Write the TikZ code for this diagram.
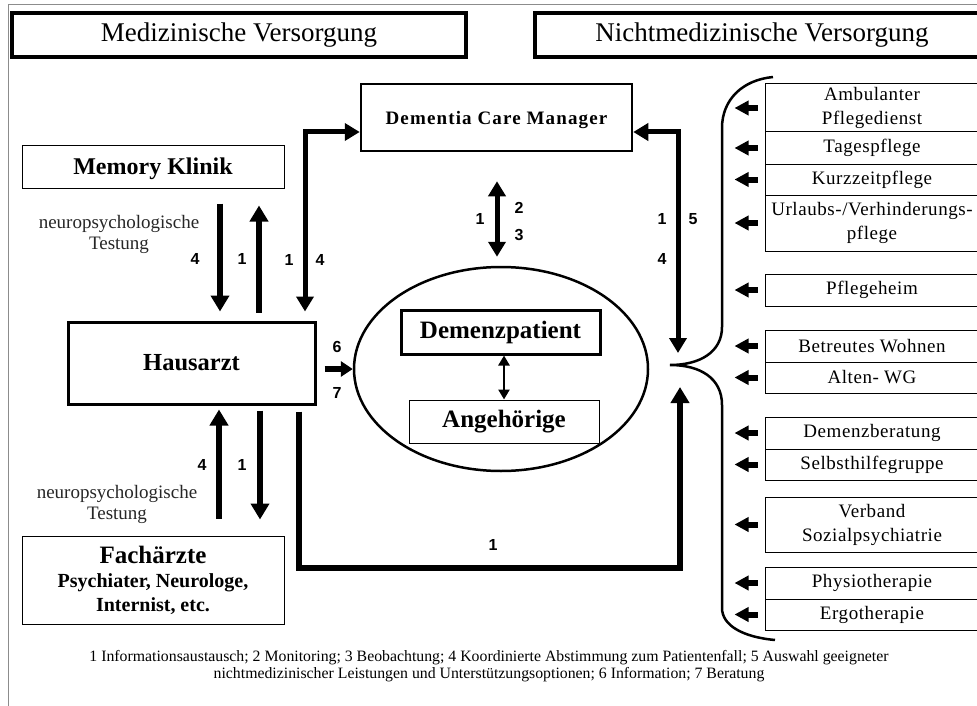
\documentclass[tikz,border=0pt]{standalone}
\usepackage{fontspec}
\setmainfont{Liberation Serif}
\newfontfamily\numfont{Liberation Sans}
\usetikzlibrary{arrows.meta,shapes.geometric}
\newcommand\rbfont{\fontsize{19}{24}\selectfont\addfontfeature{LetterSpace=3}}
\newcommand\nbfont{\numfont\bfseries\fontsize{16}{16}\selectfont}
\newcommand\npfont{\fontsize{19}{21}\selectfont\color{black!85}}
\begin{document}
\begin{tikzpicture}[x=1pt,y=-1pt,
  box/.style={draw, inner sep=0pt, align=center},
  rbox/.style={draw, line width=1pt, minimum width=214, inner sep=0pt, align=center, font=\rbfont},
  fat/.style={line width=5.5pt, -{Triangle[width=18pt,length=16pt]}},
  fatdbl/.style={line width=5pt, {Triangle[width=17pt,length=15pt]}-{Triangle[width=17pt,length=15pt]}},
  smallarr/.style={line width=6pt, -{Triangle[width=14pt,length=14pt]}},
  num/.style={font=\nbfont, inner sep=0pt},
  np/.style={font=\npfont, align=center, inner sep=0pt}
]
\useasboundingbox (0,0) rectangle (977,706);
\draw[black!45, line width=1pt] (8,706) -- (8,5) -- (977,5);

% titles
\node[box, line width=3.5pt, minimum width=454, minimum height=44, font=\fontsize{27}{27}\selectfont] (t1) at (239,35) {Medizinische Versorgung};
\node[box, line width=3.5pt, minimum width=454, minimum height=44, font=\fontsize{27}{27}\selectfont] (t2) at (762,35) {Nichtmedizinische Versorgung};

% main boxes
\node[box, line width=2.5pt, minimum width=271, minimum height=67, text depth=0pt, font=\bfseries\fontsize{19}{19}\selectfont\addfontfeature{LetterSpace=6}] (dcm) at (496.5,117.5) {Dementia Care Manager};
\node[box, line width=1pt, minimum width=262, minimum height=42, text depth=2pt, font=\bfseries\fontsize{24}{24}\selectfont] (mk) at (153,167) {Memory Klinik};
\node[box, line width=3pt, minimum width=247, minimum height=82, font=\bfseries\fontsize{24.5}{24}\selectfont] (ha) at (191.5,363) {Hausarzt};
\node[box, line width=1pt, minimum width=262, minimum height=88, font=\bfseries\fontsize{20}{24}\selectfont] (fa) at (153,580) {{\fontsize{25}{24}\selectfont Fachärzte}\\Psychiater, Neurologe,\\Internist, etc.};

\node[draw, ellipse, line width=2.5pt, minimum width=294, minimum height=204, inner sep=0pt] (el) at (501,369) {};
\node[box, line width=3pt, minimum width=199, minimum height=44, font=\bfseries\fontsize{25}{25}\selectfont] (dp) at (500.5,332) {Demenzpatient};
\node[box, line width=1pt, minimum width=190, minimum height=43, font=\bfseries\fontsize{25}{25}\selectfont] (ag) at (504,421.5) {Angehörige};

% right boxes
\node[rbox, minimum height=48] (r1) at (872,108) {Ambulanter\\Pflegedienst};
\node[rbox, minimum height=32] (r2) at (872,148) {Tagespflege};
\node[rbox, minimum height=31] (r3) at (872,179.5) {Kurzzeitpflege};
\node[rbox, minimum height=56] (r4) at (872,223) {Urlaubs-/Verhinderungs-\\pflege};
\node[rbox, minimum height=32] (r5) at (872,290) {Pflegeheim};
\node[rbox, minimum height=32] (r6) at (872,346) {Betreutes Wohnen};
\node[rbox, minimum height=31] (r7) at (872,377.5) {Alten- WG};
\node[rbox, minimum height=32] (r8) at (872,433) {Demenzberatung};
\node[rbox, minimum height=31] (r9) at (872,464.5) {Selbsthilfegruppe};
\node[rbox, minimum height=55] (r10) at (872,524.5) {Verband\\Sozialpsychiatrie};
\node[rbox, minimum height=32] (r11) at (872,583) {Physiotherapie};
\node[rbox, minimum height=31] (r12) at (872,614.5) {Ergotherapie};
\foreach \n in {r1,r2,r3,r4,r5,r6,r7,r8,r9,r10,r11,r12}
  \draw[smallarr] ([xshift=-7pt]\n.west) -- ([xshift=-30pt]\n.west);

% brace
\coordinate (bp) at (670,365);
\draw[line width=2.5pt] (773,77) .. controls (742,80) and (722,100) .. (722,128) -- (722,327) .. controls (722,352) and (700,365) .. (bp) .. controls (700,365) and (722,378) .. (722,405) -- (722,608) .. controls (722,625) and (742,637) .. (775,640);

% Memory Klinik <-> Hausarzt
\draw[fat, shorten <=15pt, shorten >=9pt] (mk.south -| 220,0) -- (ha.north -| 220,0);
\draw[fat, shorten <=8pt, shorten >=17pt] (ha.north -| 259,0) -- (mk.south -| 259,0);
% Fachaerzte <-> Hausarzt
\draw[fat, shorten <=17pt, shorten >=4pt] (fa.north -| 219,0) -- (ha.south -| 219,0);
\draw[fat, shorten <=5pt, shorten >=16pt] (ha.south -| 260,0) -- (fa.north -| 260,0);

% Hausarzt <-> DCM
\draw[fatdbl, shorten <=9pt] (ha.north -| 305,0) |- ([yshift=-14.5pt]dcm.west);
% DCM <-> brace
\coordinate (tipR) at (678,353);
\draw[fatdbl] ([yshift=-14.5pt]dcm.east) -| (tipR);
% DCM <-> ellipse
\draw[fatdbl, shorten <=29pt, shorten >=9pt] (dcm.south -| 497,0) -- (el.north -| 497,0);
% patient <-> relatives
\draw[line width=2.5pt, {Triangle[width=11pt,length=10pt]}-{Triangle[width=11pt,length=10pt]}] (dp.south -| 504,0) -- (ag.north -| 504,0);
% Hausarzt -> ellipse
\draw[line width=6pt, -{Triangle[width=15pt,length=12pt]}, shorten <=8pt] (ha.east |- el.west) -- (el.west);
% Hausarzt -> brace (bottom)
\coordinate (tipB) at (680,387);
\draw[line width=5.5pt, -{Triangle[width=18pt,length=16pt]}, shorten <=6pt] (ha.south -| 299,0) -- (299,568) -- (680,568) -- (tipB);

% number labels
\node[num] (n1) at (195,259) {4};
\node[num] (n2) at (242,259) {1};
\node[num] (n3) at (289,260) {1};
\node[num] (n4) at (320,260) {4};
\node[num] (n5) at (480,219) {1};
\node[num] (n6) at (519,208) {2};
\node[num] (n7) at (519,235) {3};
\node[num] (n8) at (662,219) {1};
\node[num] (n9) at (693,219) {5};
\node[num] (n10) at (662,259) {4};
\node[num] (n11) at (337,347) {6};
\node[num] (n12) at (337,393) {7};
\node[num] (n13) at (202,465) {4};
\node[num] (n14) at (242,465) {1};
\node[num] (n15) at (493,545) {1};

% neuropsychologische Testung
\node[np] (np1) at (119,234) {neuropsychologische\\Testung};
\node[np] (np2) at (117,504) {neuropsychologische\\Testung};

% footnote
\node[align=center, inner sep=0pt, font=\fontsize{15.8}{17}\selectfont] (fn) at (489,666) {1 Informationsaustausch; 2 Monitoring; 3 Beobachtung; 4 Koordinierte Abstimmung zum Patientenfall; 5 Auswahl geeigneter\\nichtmedizinischer Leistungen und Unterstützungsoptionen; 6 Information; 7 Beratung};
\end{tikzpicture}
\end{document}
